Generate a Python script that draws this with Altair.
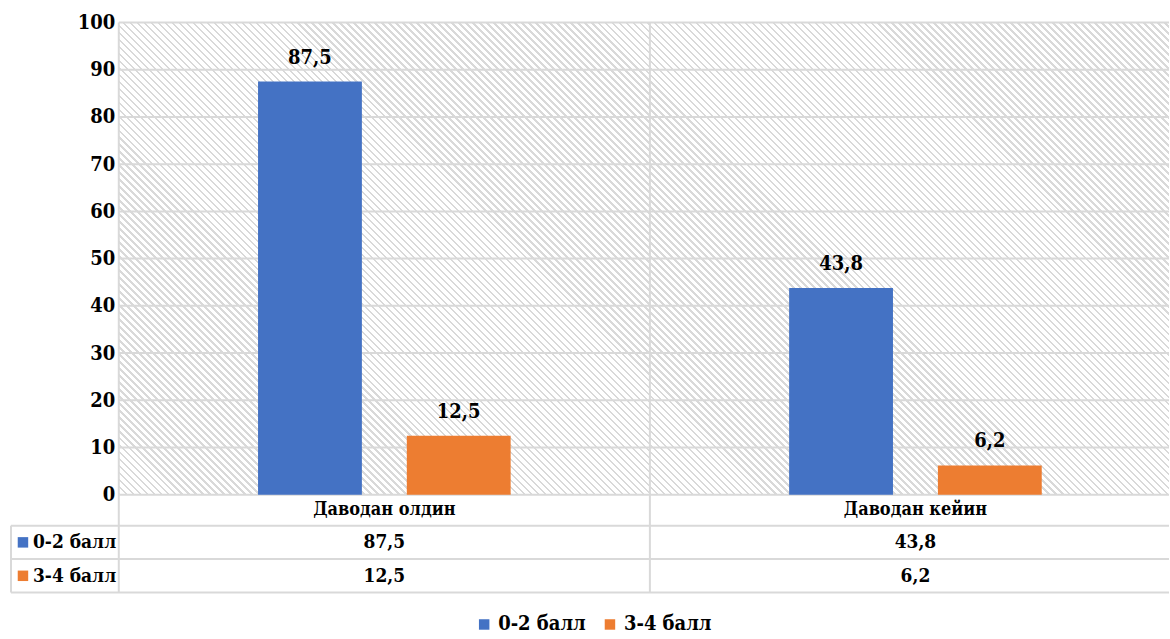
import altair as alt
import pandas as pd

# ---- data -------------------------------------------------------------
categories = ["Даводан олдин", "Даводан кейин"]
series_names = ["0-2 балл", "3-4 балл"]
series_colors = ["#4472C4", "#ED7D31"]
values_0_2 = [87.5, 43.8]
values_3_4 = [12.5, 6.2]
y_ticks = [0, 10, 20, 30, 40, 50, 60, 70, 80, 90, 100]

# ---- layout / style ---------------------------------------------------
FONT = "DejaVu Serif Condensed, DejaVu Serif"
LINE = "#D9D9D9"
BAND_SPAN = 1064      # full extent of the two category bands
VIEW_W = 1052         # visible part of the plot area
PLOT_H = 473          # bar area
HEADER_H = 31         # category-name row
ROW_TOP = PLOT_H + HEADER_H
TOTAL_H = ROW_TOP + 67
KEY_W = 108           # series-name column left of the plot

rows = []
for name, vals in zip(series_names, [values_0_2, values_3_4]):
    for cat, v in zip(categories, vals):
        rows.append({"category": cat, "series": name, "value": v,
                     "label": f"{v:.1f}".replace(".", ",")})
df = pd.DataFrame(rows)
ticks_df = pd.DataFrame({"value": y_ticks})
cats_df = pd.DataFrame({"category": categories})
series_df = pd.DataFrame({"series": series_names})


def hatch_gradient(w, h, period=7.0, duty=0.36, ink="#D9D9D9", paper="#FFFFFF"):
    """Diagonal (top-left to bottom-right) stripes as a hard-stop linear gradient."""
    span = w + h
    k = span / (w * w + h * h)
    stops = []
    i = 0
    while i * period < span:
        a = i * period / span
        b = min((i + duty) * period / span, 1.0)
        c = min((i + 1) * period / span, 1.0)
        stops += [{"offset": a, "color": ink}, {"offset": b, "color": ink},
                  {"offset": b, "color": paper}, {"offset": c, "color": paper}]
        i += 1
    return {"gradient": "linear", "x1": 0, "y1": 1, "x2": k * w, "y2": 1 - k * h,
            "stops": stops}


x_scale = alt.Scale(domain=categories, range=[0, BAND_SPAN], paddingInner=0, paddingOuter=0)
y_scale = alt.Scale(domain=[0, 100], range=[PLOT_H, 0], nice=False)
row_scale = alt.Scale(domain=series_names, range=[ROW_TOP, TOTAL_H],
                      paddingInner=0, paddingOuter=0)
color_scale = alt.Scale(domain=series_names, range=series_colors)
color_enc = alt.Color("series:N", scale=color_scale, sort=series_names,
                      legend=alt.Legend(title=None))

x_cat = alt.X("category:N", scale=x_scale, sort=categories, axis=None)
x_edge = alt.X("category:N", scale=x_scale, sort=categories, bandPosition=0, axis=None)
y_val = alt.Y("value:Q", scale=y_scale, axis=None)
y_row = alt.Y("series:N", scale=row_scale, sort=series_names, axis=None)

# ---- plot area --------------------------------------------------------
hatch = alt.Chart(alt.Data(values=[{}])).mark_rect(
    fill=hatch_gradient(VIEW_W, PLOT_H), strokeWidth=0
).encode(x=alt.value(0), x2=alt.value(VIEW_W), y=alt.value(0), y2=alt.value(PLOT_H))

hgrid = alt.Chart(ticks_df).mark_rule(color=LINE, strokeWidth=2).encode(
    y=alt.Y("value:Q", scale=y_scale,
            axis=alt.Axis(title=None, values=y_ticks, labelFont=FONT, labelFontSize=20,
                          labelFontWeight="bold", labelColor="black", ticks=False,
                          domain=False, grid=False, labelPadding=4))
)

# band boundaries, from the top of the plot down through the table
vgrid = alt.Chart(cats_df).mark_rule(color=LINE, strokeWidth=2).encode(
    x=x_edge, y=alt.value(0), y2=alt.value(TOTAL_H)
)

bar_base = alt.Chart(df).encode(
    x=x_cat,
    xOffset=alt.XOffset("series:N", sort=series_names,
                        scale=alt.Scale(paddingInner=0.302, paddingOuter=0.936)),
    y=y_val,
)
bars = bar_base.mark_bar().encode(color=color_enc)
bar_labels = bar_base.mark_text(font=FONT, fontSize=20, fontWeight="bold",
                                color="black", baseline="alphabetic", dy=-18).encode(
    text="label:N"
)

# ---- category row and data table --------------------------------------
cat_labels = alt.Chart(cats_df).mark_text(
    font=FONT, fontSize=18, fontWeight="bold", color="black", baseline="middle"
).encode(x=x_cat, y=alt.value(PLOT_H + HEADER_H / 2), text="category:N")

row_top_lines = alt.Chart(series_df).mark_rule(color=LINE, strokeWidth=2).encode(
    y=alt.Y("series:N", scale=row_scale, sort=series_names, bandPosition=0, axis=None),
    x=alt.value(-KEY_W), x2=alt.value(VIEW_W),
)
row_bottom_lines = alt.Chart(series_df).mark_rule(color=LINE, strokeWidth=2).encode(
    y=alt.Y("series:N", scale=row_scale, sort=series_names, bandPosition=1, axis=None),
    x=alt.value(-KEY_W), x2=alt.value(VIEW_W),
)
left_edge = alt.Chart(alt.Data(values=[{}])).mark_rule(color=LINE, strokeWidth=2).encode(
    x=alt.value(-KEY_W), y=alt.value(ROW_TOP), y2=alt.value(TOTAL_H)
)

cells = alt.Chart(df).mark_text(font=FONT, fontSize=19, fontWeight="bold",
                                color="black", baseline="middle").encode(
    x=x_cat, y=y_row, text="label:N"
)
series_labels = alt.Chart(series_df).mark_text(
    font=FONT, fontSize=19, fontWeight="bold", color="black", align="left",
    baseline="middle"
).encode(x=alt.value(-86), y=y_row, text="series:N")
keys = alt.Chart(series_df).mark_square(size=110, opacity=1).encode(
    x=alt.value(-96), y=y_row, color=color_enc
)

chart = alt.layer(
    hatch, hgrid, vgrid, bars, bar_labels, cat_labels,
    row_top_lines, row_bottom_lines, left_edge, cells, series_labels, keys
).resolve_scale(y="independent").properties(
    width=VIEW_W, height=TOTAL_H,
    padding={"left": 10, "top": 12, "right": 0, "bottom": 0}
).configure(font=FONT).configure_view(stroke=None).configure_legend(
    orient="none", legendX=356, legendY=593, direction="horizontal",
    symbolType="square", symbolSize=110, symbolStrokeWidth=0, labelFont=FONT,
    labelFontSize=20, labelFontWeight="bold", labelColor="black", columnPadding=14
)

chart.save("out.html", embed_options={"renderer": "svg", "actions": False})
